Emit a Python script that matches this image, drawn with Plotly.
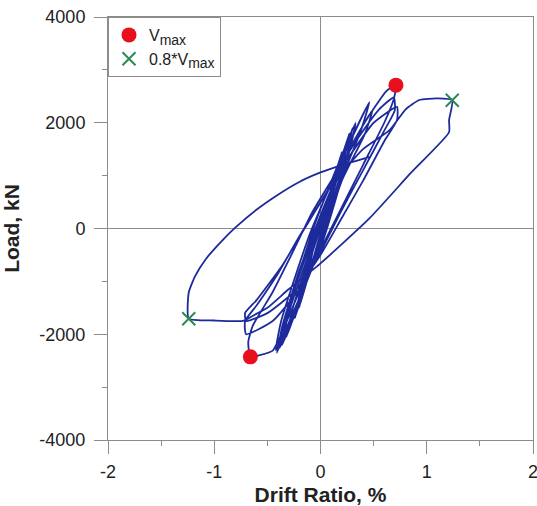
import plotly.graph_objects as go

# Hysteresis path (drift ratio %, load kN)
drift = [
    0.0, 0.1, 0.07, 0.0, -0.1, -0.07, 0.02,
    0.12, 0.08, -0.02, -0.13, -0.09, 0.03,
    0.18, 0.13, -0.03, -0.2, -0.15, 0.03,
    0.2, 0.15, -0.04, -0.24, -0.18, 0.04,
    0.27, 0.2, -0.05, -0.32, -0.26, 0.02,
    0.29, 0.22, -0.05, -0.36, -0.3, 0.0,
    0.3, 0.24, 0.0, -0.38, -0.33, -0.05,
    0.33, 0.27, 0.02, -0.42, -0.37, -0.1,
    0.2, 0.46, 0.38, 0.15, -0.1, -0.41, -0.35, -0.15, 0.05,
    0.3, 0.49, 0.42, 0.2, -0.05, -0.4, -0.36, -0.2, 0.05,
    0.18, 0.4, 0.62, 0.71, 0.69, 0.6, 0.4, 0.2, 0.0, -0.2, -0.38, -0.45, -0.58, -0.66,
    -0.68, -0.64, -0.45, -0.25, -0.08, 0.1, 0.35, 0.55, 0.69,
    0.7, 0.6, 0.4, 0.2, 0.0, -0.2, -0.45, -0.7,
    -0.71, -0.6, -0.4, -0.2, 0.0, 0.25, 0.5, 0.72,
    0.72, 0.6, 0.4, 0.2, 0.0, -0.25, -0.5, -0.7,
    -0.71, -0.6, -0.36, -0.15, 0.1, 0.4, 0.65, 0.8, 0.93, 1.1, 1.24,
    1.21, 1.21, 0.85, 0.46, 0.0, -0.3, -0.5, -0.6, -0.73, -1.0, -1.24,
    -1.24, -1.18, -1.08, -0.95, -0.8, -0.6, -0.4, -0.2, 0.0, 0.2, 0.46,
]
load = [
    0, 750, 400, -150, -750, -400, 150,
    900, 450, -250, -1000, -550, 200,
    1300, 800, -300, -1500, -950, 250,
    1450, 900, -400, -1700, -1100, 300,
    1800, 1100, -500, -2050, -1500, 200,
    1760, 1150, -550, -2200, -1600, 150,
    1900, 1300, -300, -2250, -1700, 100,
    2000, 1450, -250, -2300, -1750, -100,
    1300, 2390, 1850, 700, -800, -2350, -1800, -600, 400,
    1600, 2240, 1800, 900, -600, -2300, -1850, -800, 500,
    1100, 1950, 2600, 2711, 2450, 2000, 1200, 400, -400, -1200, -2050, -2310, -2400, -2427,
    -2150, -1850, -1200, -400, 300, 900, 1700, 2250, 2480,
    2240, 1850, 1100, 350, -450, -1150, -1750, -2000,
    -1750, -1450, -850, -150, 500, 1300, 2000, 2300,
    2050, 1650, 900, 200, -500, -1200, -1600, -1750,
    -1600, -1350, -700, 0, 800, 1500, 1860, 2250, 2430, 2460, 2427,
    2050, 1820, 1050, 190, -660, -1150, -1500, -1610, -1745, -1740, -1706,
    -1210, -900, -580, -280, 20, 360, 640, 880, 1060, 1200, 1350,
]

vmax_drift = [0.71, -0.66]
vmax_load = [2711, -2427]
v08_drift = [1.24, -1.24]
v08_load = [2427, -1706]

x_ticks = [-2, -1, 0, 1, 2]
x_labels = ["-2", "-1", "0", "1", "2"]
y_ticks = [-4000, -2000, 0, 2000, 4000]
y_labels = ["-4000", "-2000", "0", "2000", "4000"]

GRAY = "#8c8c8c"
FONT = "Liberation Sans, Arial"

fig = go.Figure()
fig.add_trace(go.Scatter(x=drift, y=load, mode="lines",
                         line=dict(color="#1c2a9c", width=1.8, shape="spline", smoothing=0.5),
                         showlegend=False, hoverinfo="skip"))
fig.add_trace(go.Scatter(x=vmax_drift, y=vmax_load, mode="markers",
                         marker=dict(symbol="circle", size=15, color="#e8101c"),
                         name="V<sub><span style='font-size:14px'>max</span></sub>"))
fig.add_trace(go.Scatter(x=v08_drift, y=v08_load, mode="markers",
                         marker=dict(symbol="x-thin", size=13,
                                     line=dict(color="#2a8a50", width=2)),
                         name="0.8*V<sub><span style='font-size:14px'>max</span></sub>"))

axis_common = dict(
    showgrid=False, zeroline=True, zerolinecolor=GRAY, zerolinewidth=1,
    showline=True, linecolor=GRAY, linewidth=1, mirror=True,
    ticks="outside", ticklen=13, tickcolor=GRAY, automargin=False,
    ticklabeloverflow="allow",
    tickfont=dict(family=FONT, size=18, color="#222"),
)

fig.update_layout(
    width=537, height=506,
    margin=dict(l=108, r=4, t=17, b=66),
    paper_bgcolor="white", plot_bgcolor="white",
    font=dict(family=FONT, color="#222"),
    xaxis=dict(range=[-2, 2], tickvals=x_ticks, ticktext=x_labels,
               minor=dict(ticks="outside", dtick=0.5, ticklen=5, tickcolor=GRAY),
               ticklabelstandoff=2,
               title=dict(text="<b>Drift Ratio, %</b>", font=dict(size=21)),
               **axis_common),
    yaxis=dict(range=[-4000, 4000], tickvals=y_ticks, ticktext=y_labels,
               minor=dict(ticks="outside", dtick=1000, ticklen=5, tickcolor=GRAY),
               ticklabelstandoff=5,
               title=dict(text="<b>Load, kN</b>", font=dict(size=21)),
               **axis_common),
    legend=dict(x=0, y=1, xanchor="left", yanchor="top",
                bgcolor="white", bordercolor=GRAY, borderwidth=1,
                font=dict(size=16, color="#222"), itemwidth=30,
                tracegroupgap=0),
)

fig.write_html(
    "out.html",
    config={"displayModeBar": False},
    post_script="document.body.style.margin='0';document.body.style.overflow='hidden';",
)
